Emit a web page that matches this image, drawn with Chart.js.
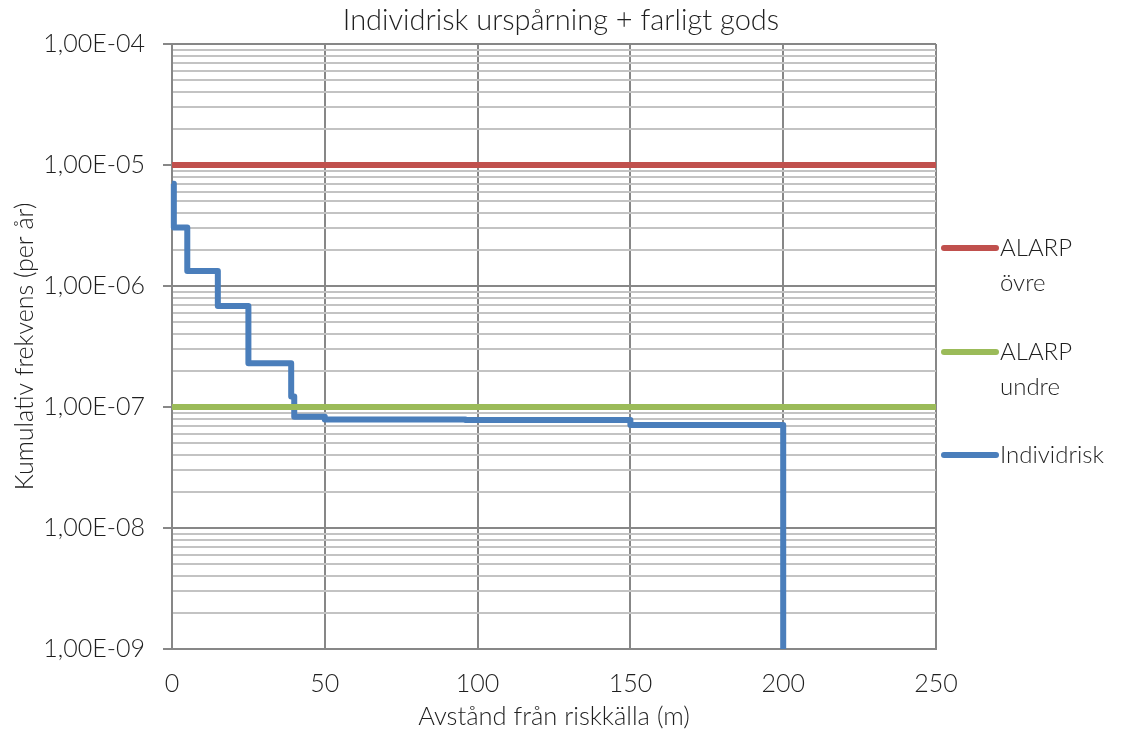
<!DOCTYPE html>
<html>
<head>
<meta charset="utf-8">
<script src="https://cdn.jsdelivr.net/npm/chart.js@4/dist/chart.umd.min.js"></script>
<style>
  html, body { margin: 0; padding: 0; background: #fff; }
  #wrap { width: 1122px; height: 733px; }
</style>
</head>
<body>
<div id="wrap"><canvas id="riskChart"></canvas></div>
<script>
// distance (m) where each risk level starts
const distances = [0, 0.6, 5, 15, 25, 39, 40, 50, 96, 150, 200];
// individual risk (per year), step values
const individRisk = [7.0e-6, 3.05e-6, 1.33e-6, 6.85e-7, 2.3e-7, 1.22e-7, 8.3e-8, 7.9e-8, 7.8e-8, 7.1e-8, 1e-9];

const alarpRange = [0, 250];
const alarpUpper = 1e-5;
const alarpLower = 1e-7;

const yDecades = [-9, -8, -7, -6, -5, -4];
const yTickLabels = ['1,00E-09', '1,00E-08', '1,00E-07', '1,00E-06', '1,00E-05', '1,00E-04'];

const fontFamily = "Lato, 'Open Sans', sans-serif";
const textColor = '#1f1f1f';
const majorGrid = '#878787';
const minorGrid = '#c3c3c3';

function isDecade(v) {
    const l = Math.log10(v);
    return Math.abs(l - Math.round(l)) < 1e-6;
}

// legend at the right with labels on two lines
const sideLegend = {
    id: 'sideLegend',
    afterDraw(chart) {
        const ctx = chart.ctx;
        const area = chart.chartArea;
        const x0 = area.right + 6;
        const rowY = [248, 352, 455];
        ctx.save();
        ctx.font = '300 24px ' + fontFamily;
        ctx.fillStyle = textColor;
        ctx.textBaseline = 'middle';
        chart.data.datasets.forEach(function (ds, i) {
            ctx.strokeStyle = ds.borderColor;
            ctx.lineWidth = 6;
            ctx.lineCap = 'round';
            ctx.beginPath();
            ctx.moveTo(x0 + 2, rowY[i]);
            ctx.lineTo(x0 + 54, rowY[i]);
            ctx.stroke();
            ds.legendText.forEach(function (line, j) {
                ctx.fillText(line, x0 + 58, rowY[i] + j * 35);
            });
        });
        ctx.restore();
    }
};

new Chart(document.getElementById('riskChart').getContext('2d'), {
    type: 'line',
    data: {
        datasets: [{
            label: 'ALARP övre',
            legendText: ['ALARP', 'övre'],
            data: alarpRange.map(x => ({ x: x, y: alarpUpper })),
            borderColor: '#C0504D',
            borderWidth: 6,
            pointRadius: 0
        }, {
            label: 'ALARP undre',
            legendText: ['ALARP', 'undre'],
            data: alarpRange.map(x => ({ x: x, y: alarpLower })),
            borderColor: '#9BBB59',
            borderWidth: 6,
            pointRadius: 0
        }, {
            label: 'Individrisk',
            legendText: ['Individrisk'],
            data: distances.map((d, i) => ({ x: d, y: individRisk[i] })),
            borderColor: '#4A7EBB',
            borderWidth: 6,
            pointRadius: 0,
            stepped: 'before',
            borderJoinStyle: 'round'
        }]
    },
    options: {
        responsive: true,
        maintainAspectRatio: false,
        animation: false,
        clip: false,
        layout: { padding: 0 },
        plugins: {
            legend: { display: false },
            tooltip: { enabled: false },
            title: {
                display: true,
                text: 'Individrisk urspårning + farligt gods',
                color: textColor,
                font: { family: fontFamily, size: 29, weight: 300, lineHeight: 1.2 },
                padding: { top: 3, bottom: 6.2 }
            }
        },
        scales: {
            x: {
                type: 'linear',
                min: 0,
                max: 250,
                ticks: {
                    stepSize: 50,
                    color: textColor,
                    padding: 20,
                    font: { family: fontFamily, size: 25, weight: 300 }
                },
                grid: { color: majorGrid, lineWidth: 2, drawTicks: false },
                border: { color: majorGrid, width: 2 },
                title: {
                    display: true,
                    text: 'Avstånd från riskkälla (m)',
                    color: textColor,
                    font: { family: fontFamily, size: 25.5, weight: 300, lineHeight: 1.2 },
                    padding: { top: 0, bottom: 1 }
                },
                afterFit(scale) { scale.height = 84; }
            },
            y: {
                type: 'logarithmic',
                min: 1e-9,
                max: 1e-4,
                afterBuildTicks(scale) {
                    const ticks = [];
                    yDecades.forEach(function (e) {
                        for (let m = 1; m <= 9; m++) {
                            if (e === -4 && m > 1) break;
                            ticks.push({ value: m * Math.pow(10, e) });
                        }
                    });
                    scale.ticks = ticks;
                },
                ticks: {
                    autoSkip: false,
                    color: textColor,
                    padding: 18,
                    font: { family: fontFamily, size: 25, weight: 300 },
                    callback(value) {
                        if (!isDecade(value)) return '';
                        return yTickLabels[yDecades.indexOf(Math.round(Math.log10(value)))];
                    }
                },
                grid: {
                    color: ctx => isDecade(ctx.tick.value) ? majorGrid : minorGrid,
                    lineWidth: 2,
                    tickLength: 9,
                    tickColor: ctx => isDecade(ctx.tick.value) ? majorGrid : 'rgba(0,0,0,0)'
                },
                border: { color: majorGrid, width: 2 },
                title: {
                    display: true,
                    text: 'Kumulativ frekvens (per år)',
                    color: textColor,
                    font: { family: fontFamily, size: 25, weight: 300, lineHeight: 1.2 },
                    padding: { top: 10, bottom: 0 }
                },
                afterFit(scale) { scale.width = 172; }
            },
            // empty axis that keeps room for the legend on the right
            spacer: {
                type: 'linear',
                position: 'right',
                display: true,
                ticks: { display: false },
                grid: { display: false, drawTicks: false },
                border: { display: false },
                afterFit(scale) { scale.width = 186; }
            }
        }
    },
    plugins: [sideLegend]
});
</script>
</body>
</html>
